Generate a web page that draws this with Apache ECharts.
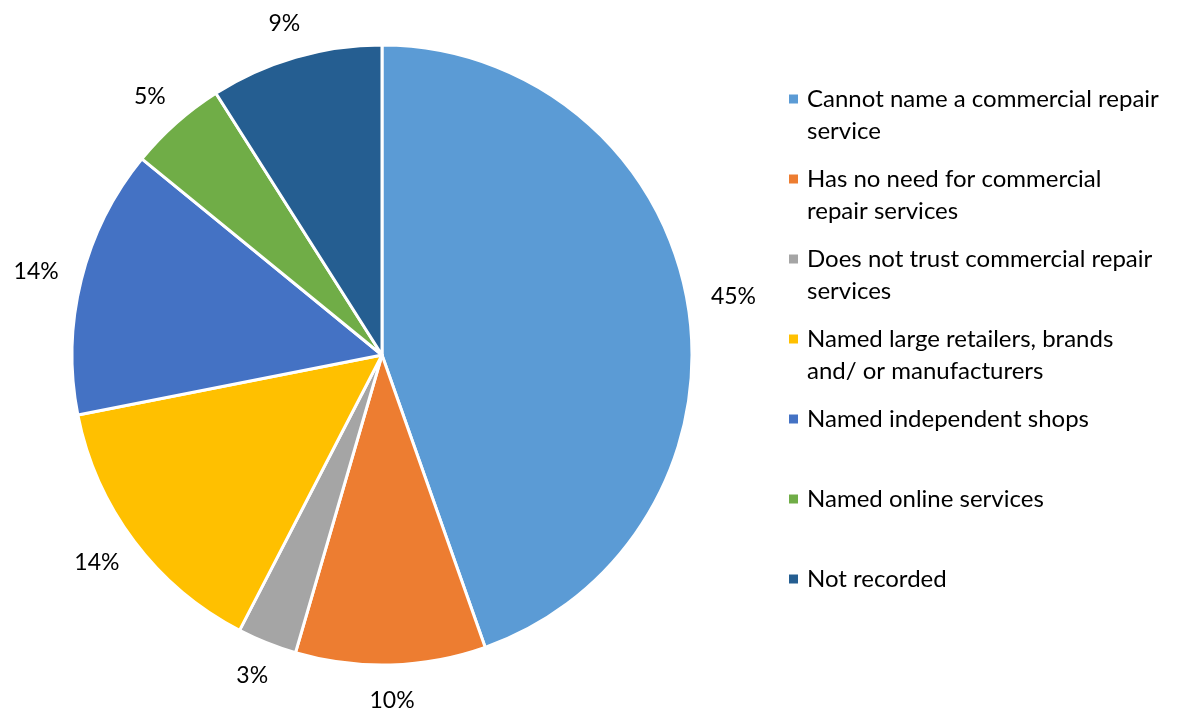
<!DOCTYPE html>
<html>
<head>
<meta charset="utf-8">
<script src="https://cdn.jsdelivr.net/npm/echarts@6/dist/echarts.min.js"></script>
<style>html,body{margin:0;padding:0;background:#fff;}#chart{width:1185px;height:713px;}</style>
</head>
<body>
<div id="chart"></div>
<script>
const categories = [
  'Cannot name a commercial repair service',
  'Has no need for commercial repair services',
  'Does not trust commercial repair services',
  'Named large retailers, brands and/ or manufacturers',
  'Named independent shops',
  'Named online services',
  'Not recorded'
];
const legendLines = [
  ['Cannot name a commercial repair', 'service'],
  ['Has no need for commercial', 'repair services'],
  ['Does not trust commercial repair', 'services'],
  ['Named large retailers, brands', 'and/ or manufacturers'],
  ['Named independent shops', ' '],
  ['Named online services', ' '],
  ['Not recorded', ' ']
];
const values = [44.6, 9.9, 3.1, 14.3, 14.0, 5.1, 9.0];
const labels = ['45%', '10%', '3%', '14%', '14%', '5%', '9%'];
const colors = ['#5B9BD5', '#ED7D31', '#A5A5A5', '#FFC000', '#4472C4', '#70AD47', '#255E91'];

const chart = echarts.init(document.getElementById('chart'), null, {renderer: 'canvas'});
const font = 'Lato, "Open Sans", sans-serif';
const pieCenter = [382, 355];
const pieRadius = 310;
const labelGap = 24;
const pieData = categories.map(function (c, i) { return {name: c, value: values[i]}; });
chart.setOption({
  animation: false,
  color: colors,
  legend: {
    orient: 'vertical',
    left: 787,
    top: 51,
    padding: 0,
    itemWidth: 11,
    itemHeight: 11,
    itemGap: -16,
    icon: 'rect',
    data: categories,
    formatter: function (name) {
      return ' \n' + legendLines[categories.indexOf(name)].join('\n');
    },
    textStyle: {
      fontFamily: font,
      fontSize: 24,
      color: '#000',
      lineHeight: 32,
      padding: [0, 0, 0, 3]
    }
  },
  series: [{
    type: 'pie',
    center: pieCenter,
    radius: pieRadius,
    startAngle: 90,
    clockwise: true,
    itemStyle: {borderColor: '#fff', borderWidth: 3},
    label: {
      show: true,
      position: 'inside',
      rotate: 0,
      fontFamily: font,
      fontSize: 23,
      color: '#000',
      formatter: function (p) { return labels[p.dataIndex]; }
    },
    labelLine: {show: false},
    labelLayout: function (params) {
      const r = params.labelRect;
      const lx = r.x + r.width / 2 - pieCenter[0];
      const ly = r.y + r.height / 2 - pieCenter[1];
      const len = Math.sqrt(lx * lx + ly * ly) || 1;
      const nx = lx / len, ny = ly / len;
      const R = pieRadius + labelGap;
      return {
        x: pieCenter[0] + nx * R + nx * r.width / 2,
        y: pieCenter[1] + ny * R + ny * r.height / 2,
        align: 'center',
        verticalAlign: 'middle'
      };
    },
    emphasis: {disabled: true},
    data: pieData
  }]
});
</script>
</body>
</html>
